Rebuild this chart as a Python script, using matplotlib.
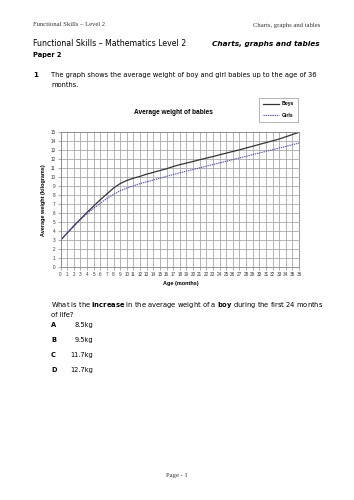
import matplotlib
matplotlib.use("Agg")
import matplotlib.pyplot as plt
import numpy as np

# data
months = list(range(37))
boys = [3.0, 3.8, 4.6, 5.35, 6.1, 6.8, 7.5, 8.15, 8.8, 9.3, 9.65, 9.9, 10.1,
        10.35, 10.55, 10.75, 10.95, 11.2, 11.4, 11.58, 11.76, 11.95, 12.13,
        12.3, 12.5, 12.68, 12.87, 13.05, 13.25, 13.45, 13.65, 13.85, 14.05,
        14.25, 14.5, 14.75, 15.0]
girls = [3.0, 3.8, 4.55, 5.3, 5.95, 6.55, 7.1, 7.65, 8.1, 8.5, 8.8, 9.05, 9.3,
         9.5, 9.7, 9.9, 10.1, 10.3, 10.5, 10.68, 10.87, 11.05, 11.23, 11.42,
         11.6, 11.78, 11.97, 12.15, 12.33, 12.52, 12.7, 12.88, 13.07, 13.25,
         13.43, 13.62, 13.8]
weight_ticks = list(range(16))
answer_letters = ["A", "B", "C", "D"]
answer_values = ["8.5kg", "9.5kg", "11.7kg", "12.7kg"]

W, H = 354, 500
fig = plt.figure(figsize=(W / 100, H / 100), dpi=100)
fig.patch.set_facecolor("white")


def px(x, y):
    # page pixel -> figure fraction
    return x / W, 1 - y / H


body = "DejaVu Sans"
serif = "Liberation Serif"
arial = "Liberation Sans"

# page header
fig.text(*px(33, 25), "Functional Skills \u2013 Level 2", family=serif, fontsize=4.8,
         va="center", ha="left", color="#333333")
fig.text(*px(320, 25), "Charts, graphs and tables", family=serif, fontsize=4.8,
         va="center", ha="right", color="#333333")
fig.text(*px(33, 44), "Functional Skills \u2013 Mathematics Level 2", family=body,
         fontsize=5.6, va="center", ha="left")
fig.text(*px(320, 44), "Charts, graphs and tables", family=body, fontsize=5.3,
         weight="bold", style="italic", va="center", ha="right")
fig.text(*px(33, 55), "Paper 2", family=body, fontsize=4.8, weight="bold",
         va="center", ha="left")
fig.text(*px(33, 75), "1", family=body, fontsize=5, weight="bold", va="center")
fig.text(*px(51, 75), "The graph shows the average weight of boy and girl babies up to the age of 36",
         family=body, fontsize=4.75, va="center")
fig.text(*px(51, 85), "months.", family=body, fontsize=4.75, va="center")

# chart
x0, x1, y0, y1 = 60.5, 299, 267.3, 132.3
ax = fig.add_axes([x0 / W, 1 - y0 / H, (x1 - x0) / W, (y0 - y1) / H])
ax.plot(months, boys, color="#333333", lw=0.9, label="Boys")
ax.plot(months, girls, color="#4a4ac8", lw=0.8, ls=(0, (1.2, 0.8)), label="Girls")
ax.set_xlim(0, 36)
ax.set_ylim(0, 15)
ax.set_xticks(months)
ax.set_yticks(weight_ticks)
ax.grid(True, color="#a8a8a8", lw=0.6)
ax.set_axisbelow(True)
for s in ax.spines.values():
    s.set_color("#888888")
    s.set_linewidth(0.6)
ax.tick_params(labelsize=3.3, length=2, width=0.5, pad=1.5, colors="#888888",
               labelcolor="#333333")
for lab in ax.get_xticklabels() + ax.get_yticklabels():
    lab.set_family(arial)

fig.text(*px(173, 112), "Average weight of babies", family=arial, fontsize=4.7,
         weight="bold", ha="center", va="center")
fig.text(*px(181, 283), "Age (months)", family=arial, fontsize=4.0,
         weight="bold", ha="center", va="center")
fig.text(*px(44, 200), "Average weight (kilograms)", family=arial, fontsize=4.0,
         weight="bold", ha="center", va="center", rotation=90)

leg = ax.legend(loc="upper right", bbox_to_anchor=px(300, 95),
                bbox_transform=fig.transFigure, fancybox=False,
                edgecolor="#999999", framealpha=1, handlelength=3.2,
                handletextpad=0.5, borderpad=0.8, labelspacing=1.3,
                prop={"family": arial, "size": 3.6, "weight": "bold"})
leg.get_frame().set_linewidth(0.5)

# question
fig.text(*px(51, 305), "What is the $\\bf{increase}$ in the average weight of a $\\bf{boy}$ during the first 24 months",
         family=body, fontsize=4.85, va="center")
fig.text(*px(51, 315), "of life?", family=body, fontsize=4.85, va="center")
for i, (letter, val) in enumerate(zip(answer_letters, answer_values)):
    y = 325 + i * 15
    fig.text(*px(51, y), letter, family=body, fontsize=4.8, weight="bold", va="center")
    fig.text(*px(93, y), val, family=body, fontsize=4.8, ha="right", va="center")

fig.text(*px(177, 475), "Page - 1", family=serif, fontsize=4.8, ha="center",
         va="center", color="#333333")

fig.savefig("out.png", dpi=100)
